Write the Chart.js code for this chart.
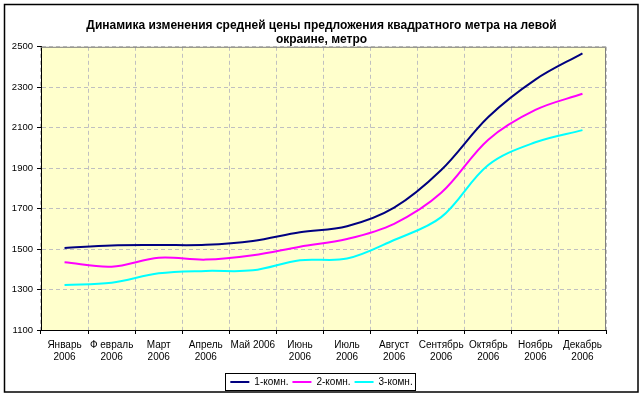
<!DOCTYPE html>
<html>
<head>
<meta charset="utf-8">
<script src="https://cdn.jsdelivr.net/npm/chart.js@4/dist/chart.umd.min.js"></script>
<style>
  body { margin: 0; background: #ffffff; }
  #priceChart { display: block; }
</style>
</head>
<body>
<canvas id="priceChart" width="643" height="397"></canvas>
<script>
var months = [
    ['Январь', '2006'], ['Ф евраль', '2006'], ['Март', '2006'], ['Апрель', '2006'],
    'Май 2006', ['Июнь', '2006'], ['Июль', '2006'], ['Август', '2006'],
    ['Сентябрь', '2006'], ['Октябрь', '2006'], ['Ноябрь', '2006'], ['Декабрь', '2006']
];
var oneRoom = [1505, 1518, 1520, 1521, 1540, 1583, 1613, 1705, 1891, 2153, 2338, 2468];
var twoRoom = [1435, 1413, 1457, 1448, 1470, 1512, 1550, 1625, 1778, 2041, 2188, 2268];
var threeRoom = [1323, 1333, 1380, 1392, 1395, 1445, 1453, 1545, 1658, 1916, 2028, 2088];
var yTicks = [1100, 1300, 1500, 1700, 1900, 2100, 2300, 2500];

var font = "'Liberation Sans', Arial, sans-serif";

// yellow plot area, grey frame, legend box and outer border
var framePlugin = {
    id: 'frame',
    beforeDraw: function (chart) {
        var a = chart.chartArea, ctx = chart.ctx;
        ctx.save();
        ctx.fillStyle = '#ffffcc';
        ctx.fillRect(a.left, a.top, a.right - a.left, a.bottom - a.top);
        ctx.restore();
    },
    afterDraw: function (chart) {
        var a = chart.chartArea, ctx = chart.ctx;
        ctx.save();
        ctx.strokeStyle = '#808080';
        ctx.lineWidth = 1;
        ctx.beginPath();
        ctx.moveTo(a.left, a.top + 0.5);
        ctx.lineTo(a.right - 0.5, a.top + 0.5);
        ctx.lineTo(a.right - 0.5, a.bottom);
        ctx.stroke();

        var boxes = chart.legend.legendHitBoxes;
        if (boxes.length) {
            var l = Infinity, r = -Infinity, t = Infinity, b = -Infinity;
            boxes.forEach(function (h) {
                l = Math.min(l, h.left); r = Math.max(r, h.left + h.width);
                t = Math.min(t, h.top); b = Math.max(b, h.top + h.height);
            });
            ctx.strokeStyle = '#000000';
            ctx.strokeRect(Math.round(l) - 4.5, Math.round(t) - 3.5, Math.round(r - l) + 8, Math.round(b - t) + 7);
        }

        ctx.lineWidth = 1.5;
        ctx.strokeRect(4.5, 4.5, 633.5, 387.5);
        ctx.restore();
    }
};

var priceChart = new Chart(document.getElementById('priceChart').getContext('2d'), {
    type: 'line',
    data: {
        labels: months,
        datasets: [{
            label: '1-комн.',
            data: oneRoom,
            borderColor: '#000080',
            backgroundColor: '#000080',
            borderWidth: 2,
            pointRadius: 0,
            tension: 0.35,
            fill: false
        }, {
            label: '2-комн.',
            data: twoRoom,
            borderColor: '#ff00ff',
            backgroundColor: '#ff00ff',
            borderWidth: 2,
            pointRadius: 0,
            tension: 0.35,
            fill: false
        }, {
            label: '3-комн.',
            data: threeRoom,
            borderColor: '#00ffff',
            backgroundColor: '#00ffff',
            borderWidth: 2,
            pointRadius: 0,
            tension: 0.35,
            fill: false
        }]
    },
    options: {
        responsive: false,
        animation: false,
        layout: { padding: { left: 5, right: 5, top: 18, bottom: 0 } },
        plugins: {
            title: {
                display: true,
                text: ['Динамика изменения средней цены предложения квадратного метра на левой', 'окраине, метро'],
                color: '#000000',
                font: { family: font, size: 12, weight: 'bold', lineHeight: 1.2 },
                padding: { top: 0, bottom: 0 }
            },
            legend: {
                position: 'bottom',
                labels: {
                    color: '#000000',
                    font: { family: font, size: 10 },
                    usePointStyle: true,
                    pointStyle: 'line',
                    pointStyleWidth: 19,
                    padding: 4
                }
            },
            tooltip: { enabled: false }
        },
        scales: {
            x: {
                offset: true,
                grid: {
                    offset: true,
                    color: '#c0c0c0',
                    tickColor: '#000000',
                    tickLength: 4,
                    tickBorderDash: [],
                    drawOnChartArea: true
                },
                border: { color: '#000000', width: 1, dash: [4, 3] },
                ticks: {
                    color: '#000000',
                    font: { family: font, size: 10 },
                    maxRotation: 0,
                    autoSkip: false,
                    padding: 5
                },
                afterFit: function (scale) { scale.height = 43; }
            },
            y: {
                min: 1100,
                max: 2500,
                afterBuildTicks: function (scale) {
                    scale.ticks = yTicks.map(function (v) { return { value: v }; });
                },
                grid: {
                    color: '#c0c0c0',
                    tickColor: '#000000',
                    tickLength: 4,
                    tickBorderDash: []
                },
                border: { color: '#000000', width: 1, dash: [4, 3] },
                ticks: {
                    color: '#000000',
                    font: { family: font, size: 9.5 },
                    padding: 4,
                    callback: function (v) { return String(v); }
                },
                afterFit: function (scale) { scale.width = 36; }
            },
            // empty spacer on the right so the title and legend stay centred on the page
            spacer: {
                position: 'right',
                min: 0,
                max: 1,
                grid: { display: false },
                border: { display: false },
                ticks: { display: false },
                afterFit: function (scale) { scale.width = 32; }
            }
        }
    },
    plugins: [framePlugin]
});
</script>
</body>
</html>
